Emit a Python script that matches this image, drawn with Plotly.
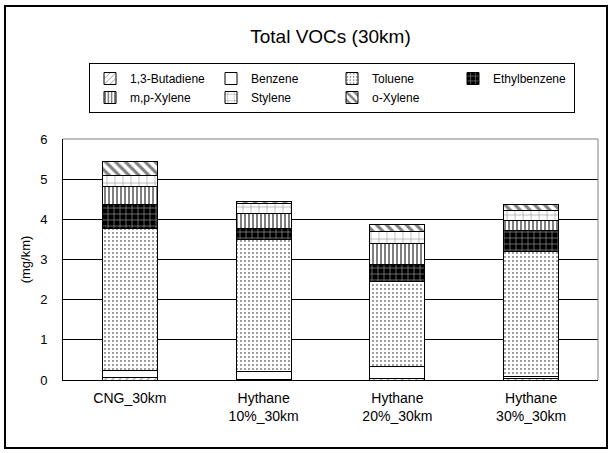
import plotly.graph_objects as go

# Total VOC emissions at 30 km, per compound (mg/km)
categories = ["CNG_30km", "Hythane<br>10%_30km", "Hythane<br>20%_30km", "Hythane<br>30%_30km"]
compounds = ["1,3-Butadiene", "Benzene", "Toluene", "Ethylbenzene", "m,p-Xylene", "Stylene", "o-Xylene"]
butadiene = [0.05, 0.01, 0.04, 0.04]
benzene = [0.18, 0.20, 0.29, 0.04]
toluene = [3.53, 3.28, 2.12, 3.11]
ethylbenzene = [0.62, 0.29, 0.43, 0.54]
mp_xylene = [0.45, 0.36, 0.52, 0.25]
stylene = [0.25, 0.26, 0.29, 0.25]
o_xylene = [0.37, 0.05, 0.17, 0.14]
y_ticks = [0, 1, 2, 3, 4, 5, 6]

series = [butadiene, benzene, toluene, ethylbenzene, mp_xylene, stylene, o_xylene]

# black-and-white fill patterns, one per compound
patterns = [
    dict(shape="/", fgcolor="black", bgcolor="white", size=5, solidity=0.2),
    dict(shape="", fgcolor="black", bgcolor="white"),
    dict(shape=".", fgcolor="black", bgcolor="white", size=4, solidity=0.2),
    dict(shape="+", fgcolor="white", bgcolor="black", size=6, solidity=0.25),
    dict(shape="|", fgcolor="black", bgcolor="white", size=4, solidity=0.5),
    dict(shape="+", fgcolor="black", bgcolor="white", size=8, solidity=0.12),
    dict(shape="\\", fgcolor="black", bgcolor="white", size=7, solidity=0.45),
]

FONT = "Liberation Sans"

fig = go.Figure()
for name, vals, pat in zip(compounds, series, patterns):
    fig.add_trace(
        go.Bar(
            x=categories,
            y=vals,
            name=name,
            marker=dict(color="white", line=dict(color="black", width=1), pattern=pat),
        )
    )

# plot area pixel box: x 63..598, y 139..380; layout margins leave room for title
W, H = 613, 453
ml, mr, mt, mb = 63, 15, 50, 73
plot_h = H - mt - mb
dom_top = (380 - 139) / plot_h


def px_x(x):
    return (x - ml) / (W - ml - mr)


def px_y(y):
    return (H - mb - y) / plot_h


fig.update_layout(
    width=W,
    height=H,
    margin=dict(l=ml, r=mr, t=mt, b=mb),
    barmode="stack",
    bargap=0.59,
    plot_bgcolor="white",
    paper_bgcolor="white",
    font=dict(family=FONT, size=13, color="black"),
    title=dict(
        text="Total VOCs (30km)",
        x=0.5,
        xref="paper",
        y=1 - 36 / H,
        yref="container",
        yanchor="middle",
        font=dict(family=FONT, size=19, color="black"),
    ),
    legend=dict(
        orientation="h",
        traceorder="normal",
        x=px_x(89),
        xanchor="left",
        y=px_y(63),
        yanchor="top",
        entrywidth=76,
        bordercolor="black",
        borderwidth=1,
        bgcolor="white",
        font=dict(family=FONT, size=12, color="black"),
        itemclick=False,
    ),
    xaxis=dict(
        showline=True,
        linecolor="black",
        linewidth=1,
        ticks="",
        ticklabelstandoff=5,
        tickfont=dict(size=14),
    ),
    yaxis=dict(
        domain=[0, dom_top],
        range=[0, 6],
        tickvals=y_ticks,
        showgrid=True,
        gridcolor="black",
        gridwidth=1,
        showline=True,
        linecolor="black",
        linewidth=1,
        zeroline=False,
        ticks="",
        ticklabelstandoff=12,
        tickfont=dict(size=13),
        title=dict(text="(mg/km)", font=dict(size=13), standoff=6),
    ),
    showlegend=True,
)

# grey top/right border of the plot area
fig.add_shape(type="line", xref="x domain", yref="y domain", x0=0, x1=1, y0=1, y1=1,
              line=dict(color="#808080", width=1), layer="above")
fig.add_shape(type="line", xref="x domain", yref="y domain", x0=1, x1=1, y0=0, y1=1,
              line=dict(color="#808080", width=1), layer="above")

# outer chart frame
fig.add_shape(type="rect", xref="paper", yref="paper",
              x0=px_x(5), x1=px_x(607), y0=px_y(448), y1=px_y(6),
              line=dict(color="black", width=2), layer="below")

# drop the default page margin so the figure sits at the window origin
fig.write_html(
    "out.html",
    config={"displayModeBar": False},
    post_script="document.body.style.margin='0';",
)
